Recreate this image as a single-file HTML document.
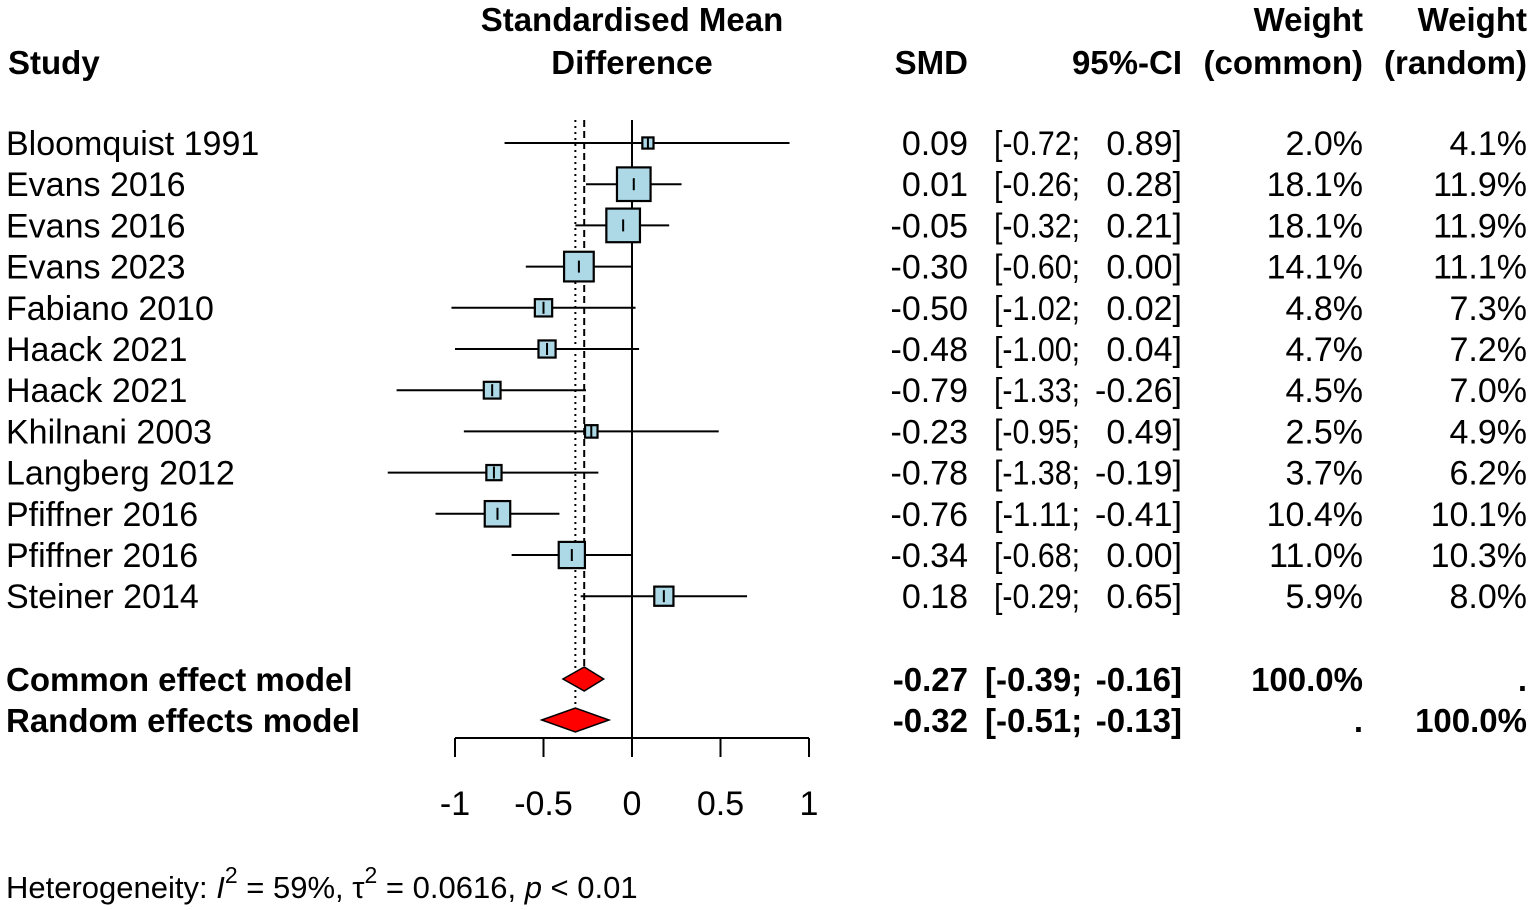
<!DOCTYPE html>
<html><head><meta charset="utf-8"><style>
html,body{margin:0;padding:0;background:#fff}
svg{display:block;font-family:"Liberation Sans",Arial,sans-serif}
</style></head><body>
<svg id="plot" width="1535" height="910" viewBox="0 0 1535 910" xmlns="http://www.w3.org/2000/svg">
<g id="hdr" font-weight="bold" font-size="33" fill="#000">
<text x="8" y="74">Study</text>
<text x="632" y="31" text-anchor="middle">Standardised Mean</text>
<text x="632" y="74" text-anchor="middle">Difference</text>
<text x="968" y="74" text-anchor="end">SMD</text>
<text x="1182" y="74" text-anchor="end">95%-CI</text>
<text x="1363" y="31" text-anchor="end">Weight</text>
<text x="1363" y="74" text-anchor="end">(common)</text>
<text x="1527" y="31" text-anchor="end">Weight</text>
<text x="1527" y="74" text-anchor="end">(random)</text>
</g>
<g id="rows"></g>
<g id="marks"></g>
<g id="axis"></g>
<text x="6" y="898" font-size="31" fill="#000">Heterogeneity: <tspan font-style="italic">I</tspan><tspan dy="-15" font-size="23">2</tspan><tspan dy="15"> = 59%, τ</tspan><tspan dy="-15" font-size="23">2</tspan><tspan dy="15"> = 0.0616, </tspan><tspan font-style="italic">p</tspan> &lt; 0.01</text>
</svg>
<script>
const studies=["Bloomquist 1991","Evans 2016","Evans 2016","Evans 2023","Fabiano 2010","Haack 2021","Haack 2021","Khilnani 2003","Langberg 2012","Pfiffner 2016","Pfiffner 2016","Steiner 2014"];
const smd=[0.09,0.01,-0.05,-0.30,-0.50,-0.48,-0.79,-0.23,-0.78,-0.76,-0.34,0.18];
const lower=[-0.72,-0.26,-0.32,-0.60,-1.02,-1.00,-1.33,-0.95,-1.38,-1.11,-0.68,-0.29];
const upper=[0.89,0.28,0.21,0.00,0.02,0.04,-0.26,0.49,-0.19,-0.41,0.00,0.65];
const wCommon=[2.0,18.1,18.1,14.1,4.8,4.7,4.5,2.5,3.7,10.4,11.0,5.9];
const wRandom=[4.1,11.9,11.9,11.1,7.3,7.2,7.0,4.9,6.2,10.1,10.3,8.0];
const pooledNames=["Common effect model","Random effects model"];
const pooledEst=[-0.27,-0.32];
const pooledLow=[-0.39,-0.51];
const pooledUp=[-0.16,-0.13];
const ticks=[-1,-0.5,0,0.5,1];
const tickLabels=["-1","-0.5","0","0.5","1"];

const NS="http://www.w3.org/2000/svg";
const X=v=>632+v*177;
const rowY=i=>143+i*41.2;
const poolY=i=>679+i*41;
const FS=34;
function el(tag,attrs,parent,txt){const e=document.createElementNS(NS,tag);for(const k in attrs)e.setAttribute(k,attrs[k]);if(txt!==undefined)e.textContent=txt;parent.appendChild(e);return e;}
const fmt=v=>v.toFixed(2);
const rows=document.getElementById('rows'),marks=document.getElementById('marks'),axis=document.getElementById('axis');

let l=el('line',{x1:X(0),x2:X(0),y1:120,y2:738,stroke:'#000','stroke-width':2},marks);


l=el('line',{x1:X(pooledEst[0]),x2:X(pooledEst[0]),y1:120,y2:poolY(0)-10,stroke:'#000','stroke-width':2,'stroke-dasharray':'7,4'},marks);


l=el('line',{x1:X(pooledEst[1]),x2:X(pooledEst[1]),y1:120,y2:poolY(1)-10,stroke:'#000','stroke-width':2,'stroke-dasharray':'2,4'},marks);



studies.forEach((s,i)=>{
  const y=rowY(i);
  const ty=y+12;
  const g=el('g',{'font-size':FS},rows);
  
  
  let t=el('text',{x:6,y:ty},g,s);
  
  
  t=el('text',{x:968,y:ty,'text-anchor':'end'},g,fmt(smd[i]));
  
  
  t=el('text',{x:994,y:ty,textLength:86,lengthAdjust:'spacingAndGlyphs'},g,'['+fmt(lower[i])+';');
  
  
  t=el('text',{x:1182,y:ty,'text-anchor':'end'},g,fmt(upper[i])+']');
  
  
  t=el('text',{x:1363,y:ty,'text-anchor':'end'},g,wCommon[i].toFixed(1)+'%');
  
  
  t=el('text',{x:1527,y:ty,'text-anchor':'end'},g,wRandom[i].toFixed(1)+'%');
  
  
  const w=el('line',{x1:X(lower[i]),x2:X(upper[i]),y1:y,y2:y,stroke:'#000','stroke-width':2},marks);
  
  
  const sz=7.9*Math.sqrt(wCommon[i]);
  const b=el('rect',{x:X(smd[i])-sz/2,y:y-sz/2,width:sz,height:sz,fill:'#add8e6',stroke:'#000','stroke-width':2.2},marks);
  
  
  const c=el('line',{x1:X(smd[i]),x2:X(smd[i]),y1:y-6,y2:y+6,stroke:'#000','stroke-width':2},marks);
  
  
});

pooledNames.forEach((n,i)=>{
  const y=poolY(i);
  const ty=y+12;
  const g=el('g',{'font-weight':'bold','font-size':33},rows);
  
  
  let t=el('text',{x:6,y:ty},g,n);
  
  
  t=el('text',{x:968,y:ty,'text-anchor':'end'},g,fmt(pooledEst[i]));
  
  
  t=el('text',{x:985,y:ty},g,'['+fmt(pooledLow[i])+';');
  
  
  t=el('text',{x:1182,y:ty,'text-anchor':'end'},g,fmt(pooledUp[i])+']');
  
  
  t=el('text',{x:1363,y:ty,'text-anchor':'end'},g,i===0?'100.0%':'.');
  
  
  t=el('text',{x:1527,y:ty,'text-anchor':'end'},g,i===1?'100.0%':'.');
  
  
  const d=el('polygon',{points:`${X(pooledLow[i])},${y} ${X(pooledEst[i])},${y-12} ${X(pooledUp[i])},${y} ${X(pooledEst[i])},${y+12}`,fill:'#ff0000',stroke:'#000','stroke-width':1.5},marks);
  
  
});

l=el('line',{x1:X(ticks[0]),x2:X(ticks[ticks.length-1]),y1:738,y2:738,stroke:'#000','stroke-width':2},axis);


ticks.forEach((v,i)=>{
  const tk=el('line',{x1:X(v),x2:X(v),y1:738,y2:757,stroke:'#000','stroke-width':2},axis);
  
  
  const tl=el('text',{x:X(v),y:815,'font-size':FS,'text-anchor':'middle'},axis,tickLabels[i]);
  
  
});
</script>
</body></html>
